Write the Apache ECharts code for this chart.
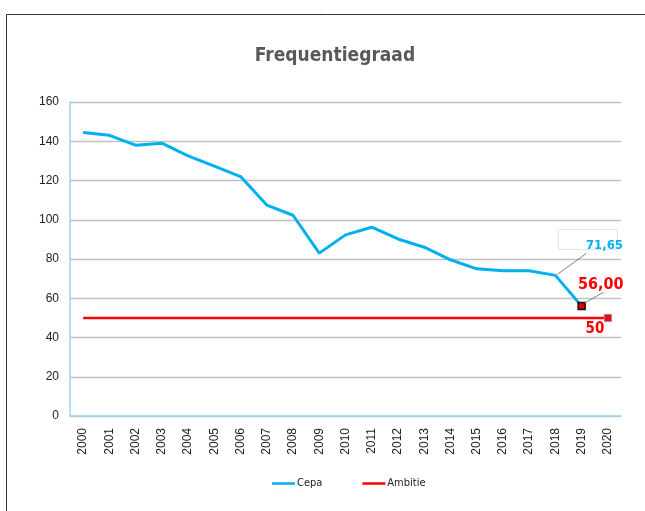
<!DOCTYPE html>
<html><head><meta charset="utf-8">
<script src="https://cdn.jsdelivr.net/npm/echarts@6/dist/echarts.min.js"></script>
<style>html,body{margin:0;padding:0;background:#fff}#c{width:645px;height:511px}</style>
</head><body><div id="c"></div>
<script>
var years = ['2000','2001','2002','2003','2004','2005','2006','2007','2008','2009','2010','2011','2012','2013','2014','2015','2016','2017','2018','2019','2020'];
var cepa = [144.5,143,138,139,132.5,127.3,122,107.5,102.3,83,92.3,96.2,90.2,86,79.6,75,74,74,71.65,56,null];
var ambitie = [50,50,50,50,50,50,50,50,50,50,50,50,50,50,50,50,50,50,50,50,50];

var COND = "'DejaVu Sans Condensed', 'Liberation Sans Narrow', 'Roboto Condensed', 'Open Sans', sans-serif";
function fmt(v){return v.toFixed(2).replace('.',',');}

var cepaData = cepa.map(function(v,i){
  if(i===18) return {value:v, label:{show:true, formatter:function(p){return fmt(p.value);}, color:'#00B0F0', fontFamily:COND, fontWeight:'bold', fontSize:13}};
  if(i===19) return {value:v, symbol:'rect', symbolSize:7, itemStyle:{color:'#e00000', borderColor:'#111', borderWidth:1.5}, label:{show:true, formatter:function(p){return fmt(p.value);}, color:'#ff0000', fontFamily:COND, fontWeight:'bold', fontSize:16}};
  return v;
});
var ambData = ambitie.map(function(v,i){
  if(i===20) return {value:v, symbol:'rect', symbolSize:7, itemStyle:{color:'#ff0000', borderColor:'#8f7fb0', borderWidth:1}, label:{show:true, formatter:'{c}', color:'#ff0000', fontFamily:COND, fontWeight:'bold', fontSize:15}};
  return v;
});

var chart = echarts.init(document.getElementById('c'));
chart.setOption({
  animation:false,
  title:{text:'Frequentiegraad', left:330, top:42, textAlign:'center', textStyle:{fontFamily:COND, fontWeight:'bold', fontSize:19, color:'#595959'}},
  grid:{left:70, right:24, top:102, bottom:95},
  legend:{bottom:17, left:267, itemGap:40, itemWidth:23, itemHeight:2.5, icon:'rect', textStyle:{fontFamily:COND, fontSize:11, color:'#222', padding:[0,0,0,-3]}, data:['Cepa','Ambitie']},
  xAxis:{type:'category', data:years, boundaryGap:true,
    axisLine:{lineStyle:{color:'#9ed4f2', width:1.5}}, axisTick:{show:false},
    axisLabel:{rotate:90, fontFamily:'Liberation Sans', fontSize:12, color:'#222', interval:0, margin:12}},
  yAxis:{type:'value', min:0, max:160, interval:20,
    axisLine:{show:true, lineStyle:{color:'#9ed4f2', width:1.5}}, axisTick:{show:false},
    splitLine:{lineStyle:{color:'#c0c0c0', width:1.3}},
    axisLabel:{fontFamily:'Liberation Sans', fontSize:12, color:'#222', margin:11}},
  series:[
    {name:'Cepa', type:'line', data:cepaData, color:'#00B0F0', showSymbol:true, symbol:'circle', symbolSize:0.01,
     lineStyle:{width:3, color:'#00B0F0'}, z:3,
     labelLayout:function(p){
       if(p.dataIndex===18) return {dx:49, dy:-18};
       if(p.dataIndex===19) return {dx:19, dy:-4};
       return {};
     }},
    {name:'Ambitie', type:'line', data:ambData, color:'#ff0000', showSymbol:true, symbol:'circle', symbolSize:0.01,
     lineStyle:{width:2.5, color:'#ff0000'}, z:2,
     labelLayout:function(p){ return {dx:-13, dy:28}; }}
  ]
});

var p18 = chart.convertToPixel({xAxisIndex:0, yAxisIndex:0}, [years[18], cepa[18]]);
var p19 = chart.convertToPixel({xAxisIndex:0, yAxisIndex:0}, [years[19], cepa[19]]);
chart.setOption({
  graphic:[
    {type:'rect', shape:{x:6.5,y:14.5,width:700,height:600}, style:{fill:'none', stroke:'#333', lineWidth:1}, silent:true, z:0},
    {type:'rect', shape:{x:p18[0]+3, y:p18[1]-46, width:59, height:20}, style:{fill:'#fff', stroke:'#e2e2e2', lineWidth:1}, silent:true, z:0},
    {type:'line', shape:{x1:p18[0]+2, y1:p18[1]-1, x2:p18[0]+31, y2:p18[1]-22}, style:{stroke:'#808080', lineWidth:1}, silent:true, z:10},
    {type:'line', shape:{x1:p19[0]+3, y1:p19[1]-3, x2:p19[0]+22, y2:p19[1]-14}, style:{stroke:'#808080', lineWidth:1}, silent:true, z:10}
  ]
});
</script></body></html>
